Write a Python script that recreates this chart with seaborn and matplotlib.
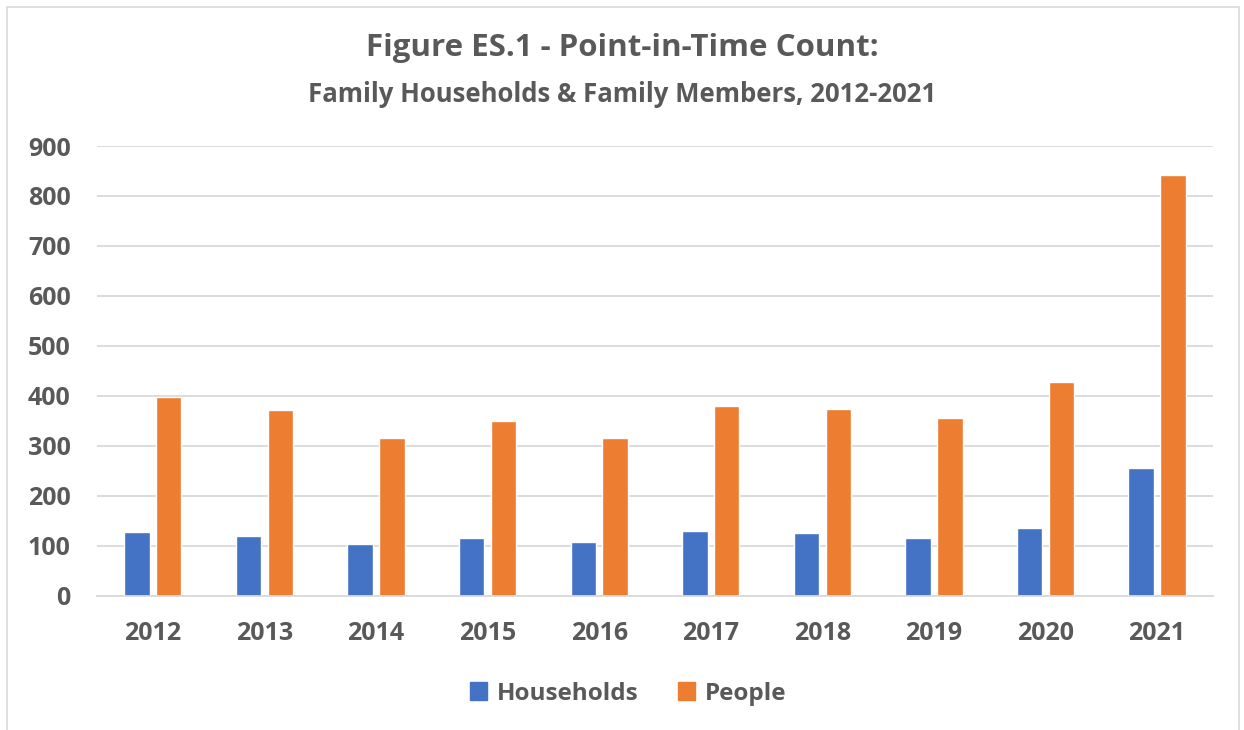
import pandas as pd
import matplotlib.pyplot as plt
import matplotlib.patches as mpatches
import seaborn as sns

years = ['2012', '2013', '2014', '2015', '2016', '2017', '2018', '2019', '2020', '2021']
households = [128, 120, 104, 116, 108, 129, 125, 116, 136, 255]
people = [397, 371, 316, 350, 316, 379, 374, 356, 427, 841]
y_ticks = [0, 100, 200, 300, 400, 500, 600, 700, 800, 900]

df = pd.DataFrame({
    'Year': years * 2,
    'Count': households + people,
    'Series': ['Households'] * len(years) + ['People'] * len(years),
})

sns.set_style('white')
plt.rcParams['font.family'] = ['Open Sans', 'DejaVu Sans']
grey = '#595959'

fig = plt.figure(figsize=(12.44, 7.3), dpi=100)
ax = fig.add_axes([0.078, 0.184, 0.897, 0.616])

sns.barplot(data=df, x='Year', y='Count', hue='Series',
            palette={'Households': '#4472C4', 'People': '#ED7D31'},
            saturation=1, width=0.57, gap=0.2, ax=ax, legend=False)

ax.set_ylim(0, 900)
ax.set_yticks(y_ticks)
ax.yaxis.grid(True, color='#D9D9D9', linewidth=1.3)
ax.set_axisbelow(True)
for s in ['top', 'right', 'left']:
    ax.spines[s].set_visible(False)
ax.spines['bottom'].set_color('#D9D9D9')
ax.spines['bottom'].set_linewidth(1.3)
ax.tick_params(axis='both', length=0, labelsize=18, labelcolor=grey)
ax.tick_params(axis='y', pad=19)
ax.tick_params(axis='x', pad=18)
for lbl in ax.get_xticklabels() + ax.get_yticklabels():
    lbl.set_fontweight('bold')
ax.set_xlabel('')
ax.set_ylabel('')

fig.text(0.5, 0.934, 'Figure ES.1 - Point-in-Time Count:', ha='center', va='center',
         fontsize=22.5, fontweight='bold', color=grey)
fig.text(0.5, 0.87, 'Family Households & Family Members, 2012-2021', ha='center', va='center',
         fontsize=18.5, fontweight='bold', color=grey)

handles = [mpatches.Patch(color='#4472C4', label='Households'),
           mpatches.Patch(color='#ED7D31', label='People')]
leg = fig.legend(handles=handles, loc='center', bbox_to_anchor=(0.505, 0.05), ncol=2,
                 frameon=False, fontsize=17.5, handlelength=0.7, handleheight=0.7,
                 handletextpad=0.4, columnspacing=1.6)
for t in leg.get_texts():
    t.set_color(grey)
    t.set_fontweight('bold')

fig.patches.append(mpatches.Rectangle((0.006, -0.01), 0.99, 1.0, transform=fig.transFigure,
                                      fill=False, edgecolor='#D9D9D9', linewidth=1.2))

fig.savefig('out.png', dpi=100)
